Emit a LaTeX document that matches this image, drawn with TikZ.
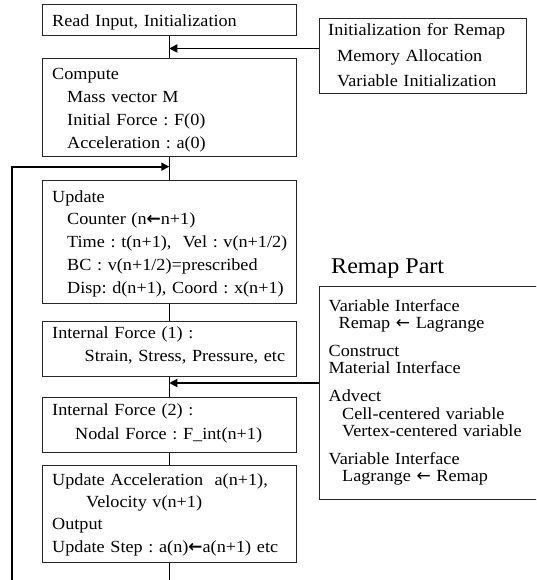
\documentclass[tikz,border=0pt]{standalone}
\usepackage{fontspec}
\setmainfont{Liberation Serif}[FakeStretch=1.07]
\newfontfamily\arrfont{DejaVu Sans}
\usetikzlibrary{arrows.meta,calc}
\newcommand{\barr}{{\arrfont\bfseries ←}}
\newcommand{\larr}{{\arrfont ←}}
\begin{document}
\begin{tikzpicture}[x=1pt,y=-1pt,
  box/.style={draw=black!85,line width=1pt,anchor=north west,inner sep=0pt},
  txt/.style={anchor=base west,inner sep=0pt,align=left,text width=#1,
    font=\fontsize{17}{22.7}\selectfont\frenchspacing},
  txt/.default=300pt,
  conn/.style={line width=0.9pt},
  arr/.style={line width=1.8pt,-{Triangle[length=8pt,width=8pt]}}]
\clip (0,0) rectangle (536,580);
% main column boxes
\node[box,minimum width=253.5pt,minimum height=31pt] (b1) at (42,4) {};
\node[box,minimum width=253.5pt,minimum height=98pt] (b2) at (42,58) {};
\node[box,minimum width=253.5pt,minimum height=123pt] (b3) at (42,180) {};
\node[box,minimum width=253.5pt,minimum height=55pt] (b4) at (42,320.5) {};
\node[box,minimum width=253.5pt,minimum height=54.5pt] (b5) at (42,397) {};
\node[box,minimum width=253.5pt,minimum height=97.5pt] (b6) at (42,464.5) {};
% texts
\node[txt] (t1) at (52,27) {Read Input, Initialization};
\node[txt] (t2) at (52,80) {Compute\\
  \hspace*{15pt}Mass vector M\\
  \hspace*{15pt}Initial Force : F(0)\\
  \hspace*{15pt}Acceleration : a(0)};
\node[txt,font=\fontsize{17}{22.9}\selectfont\frenchspacing] (t3) at (52,202) {Update\\
  \hspace*{15pt}Counter (n\barr n+1)\\
  \hspace*{15pt}Time : t(n+1),\ \ Vel : v(n+1/2)\\
  \hspace*{15pt}BC : v(n+1/2)=prescribed\\
  \hspace*{15pt}Disp: d(n+1), Coord : x(n+1)};
\node[txt,font=\fontsize{17}{23.5}\selectfont\frenchspacing] (t4) at (52,338) {Internal Force (1) :\\
  \hspace*{32.5pt}Strain, Stress, Pressure, etc};
\node[txt,font=\fontsize{17}{24}\selectfont\frenchspacing] (t5) at (52,415) {Internal Force (2) :\\
  \hspace*{23pt}Nodal Force : F\_int(n+1)};
\node[txt,font=\fontsize{17}{22.4}\selectfont\frenchspacing] (t6) at (52,485) {Update Acceleration\ \ a(n+1),\\
  \hspace*{34pt}Velocity v(n+1)\\
  Output\\
  Update Step : a(n)\barr a(n+1) etc};
% remap initialization box
\node[box,minimum width=207.5pt,minimum height=75pt] (init) at (318.5,18) {};
\node[txt=210pt,font=\fontsize{17}{25.3}\selectfont\frenchspacing] (ti) at (328,36) {Initialization for Remap\\
  \hspace*{9pt}Memory Allocation\\
  \hspace*{9pt}Variable Initialization};
% remap part
\node[anchor=base west,inner sep=0pt,font=\fontsize{22.5}{26}\selectfont] (rp) at (331,273) {Remap Part};
\node[box,minimum width=230pt,minimum height=213pt] (remap) at (318.5,286) {};
\node[txt=215pt,font=\fontsize{17}{17.4}\selectfont\frenchspacing] (tr) at (328.5,311.3) {Variable Interface\\
  \hspace*{10pt}Remap \larr{} Lagrange\\[10.4pt]
  Construct\\
  Material Interface\\[10.4pt]
  Advect\\
  \hspace*{13.5pt}Cell-centered variable\\
  \hspace*{13.5pt}Vertex-centered variable\\[10.4pt]
  Variable Interface\\
  \hspace*{13.5pt}Lagrange \larr{} Remap};
% connectors
\coordinate (lb) at (12,580);
\coordinate (lj) at ($(b2.south)!0.42!(b3.north)$);
\coordinate (s1) at ([yshift=7.5pt]init.west);
\coordinate (s2) at ([yshift=10pt]remap.west);
\draw[conn] (b1.south) -- (b2.north);
\draw[conn] (b2.south) -- (b3.north);
\draw[conn] (b3.south) -- (b4.north);
\draw[conn] (b4.south) -- (b5.north);
\draw[conn] (b5.south) -- (b6.north);
\draw[conn] (b6.south) -- (b6.south |- lb);
\draw[arr] (s1) -- (b1.south |- s1);
\draw[arr] (s2) -- (b4.south |- s2);
\draw[arr] (lb) |- (lj);
\end{tikzpicture}
\end{document}
